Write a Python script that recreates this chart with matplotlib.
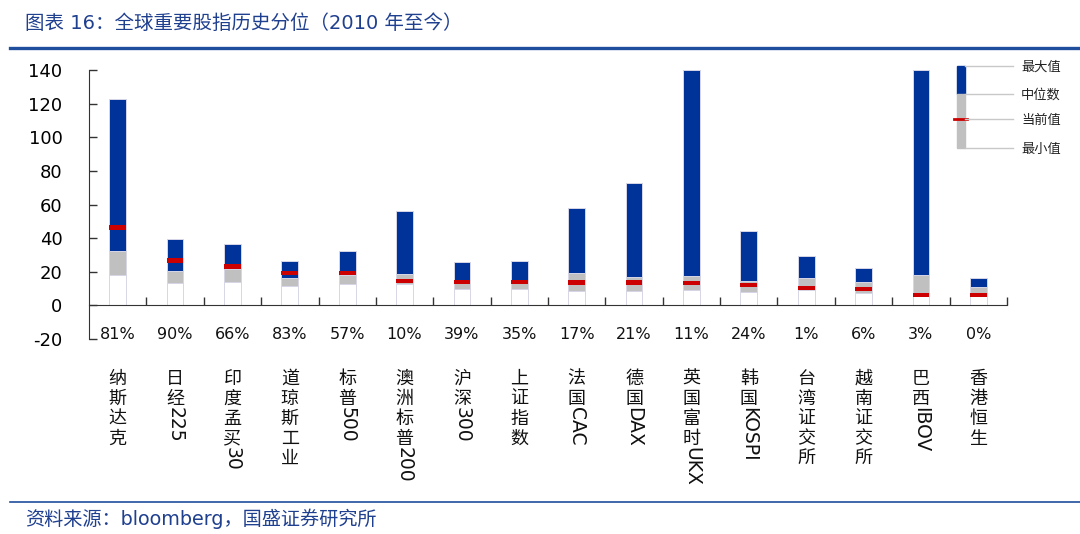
import matplotlib
matplotlib.use("Agg")
import matplotlib.pyplot as plt
from matplotlib.patches import Rectangle
from matplotlib.lines import Line2D

plt.rcParams['font.family'] = ['DejaVu Sans', 'Noto Sans CJK SC']

# 数据
indices = ["纳斯达克", "日经225", "印度孟买30", "道琼斯工业", "标普500", "澳洲标普200",
           "沪深300", "上证指数", "法国CAC", "德国DAX", "英国富时UKX", "韩国KOSPI",
           "台湾证交所", "越南证交所", "巴西IBOV", "香港恒生"]
max_vals = [122.8, 39.7, 36.5, 26.4, 32.3, 56.0, 25.8, 26.2, 57.7, 73.0, 140.0, 44.4, 29.6, 22.0, 140.0, 16.3]
median_vals = [32.1, 20.2, 21.4, 16.5, 17.9, 18.7, 15.1, 15.1, 19.0, 17.1, 17.7, 14.5, 16.3, 14.1, 17.9, 10.7]
min_vals = [18.1, 13.5, 14.1, 11.3, 12.9, 12.5, 9.7, 9.7, 8.5, 8.5, 9.3, 7.9, 9.3, 7.3, 5.5, 6.0]
current_vals = [46.4, 26.8, 23.2, 19.2, 19.4, 14.5, 13.9, 13.9, 13.5, 13.5, 13.3, 12.1, 10.3, 9.9, 6.2, 6.2]
percentiles = ["81%", "90%", "66%", "83%", "57%", "10%", "39%", "35%", "17%", "21%",
               "11%", "24%", "1%", "6%", "3%", "0%"]
y_ticks = [-20, 0, 20, 40, 60, 80, 100, 120, 140]

BLUE = '#003399'
GRAY = '#c0c0c0'
RED = '#cc0000'
EDGE = '#d6d6e6'
TITLE_BLUE = '#1f3f8f'

W, H = 1080, 534
fig = plt.figure(figsize=(W / 100, H / 100), dpi=100)
ax = fig.add_axes([89 / W, 1 - 339 / H, (1007 - 89) / W, (339 - 70) / H])

x = list(range(len(indices)))
bw = 0.29
mark_h = 2.6

ax.bar(x, min_vals, width=bw, color='white', edgecolor=EDGE, linewidth=0.7, zorder=2)
ax.bar(x, [m - n for m, n in zip(median_vals, min_vals)], bottom=min_vals, width=bw,
       color=GRAY, edgecolor=EDGE, linewidth=0.7, zorder=2)
ax.bar(x, [a - m for a, m in zip(max_vals, median_vals)], bottom=median_vals, width=bw,
       color=BLUE, edgecolor=EDGE, linewidth=0.7, zorder=2)
ax.bar(x, [mark_h] * len(x), bottom=[c - mark_h / 2 for c in current_vals], width=bw,
       color=RED, linewidth=0, zorder=3)

for i, p in enumerate(percentiles):
    ax.text(i, -17.5, p, ha='center', va='center', fontsize=11.5, color='#111111')

ax.set_xlim(-0.5, len(indices) - 0.5)
ax.set_ylim(-20, 140)
ax.set_yticks(y_ticks)
ax.set_yticklabels([str(v) for v in y_ticks], fontsize=13)
ax.set_xticks([i + 0.5 for i in range(len(indices))])
ax.set_xticklabels([])
ax.tick_params(axis='y', direction='in', length=6, width=1, color='#333333', pad=19)
ax.tick_params(axis='x', direction='in', length=6, width=1, color='#333333')
ax.spines['top'].set_visible(False)
ax.spines['right'].set_visible(False)
ax.spines['bottom'].set_position(('data', 0))
ax.spines['left'].set_color('#333333')
ax.spines['bottom'].set_color('#333333')

# 竖排类别标签
step = 14.4
for i, name in enumerate(indices):
    cjk = ""
    latin = ""
    for ch in name:
        if ord(ch) > 127 and latin == "":
            cjk += ch
        else:
            latin += ch
    for k, ch in enumerate(cjk):
        ax.annotate(ch, xy=(i, 0), xycoords=('data', 'axes fraction'),
                    xytext=(0, -22 - k * step), textcoords='offset points',
                    ha='center', va='top', fontsize=13, family='Noto Sans CJK SC',
                    color='#111111')
    if latin:
        ax.annotate(latin, xy=(i, 0), xycoords=('data', 'axes fraction'),
                    xytext=(0, -20 - len(cjk) * step), textcoords='offset points',
                    ha='center', va='top', rotation=-90, fontsize=13.5,
                    color='#111111')

# 图例
lax = fig.add_axes([940 / W, 1 - 160 / H, 135 / W, 105 / H])
lax.set_xlim(940, 1075)
lax.set_ylim(160, 55)
lax.axis('off')
lax.add_patch(Rectangle((957, 66), 8, 28, color=BLUE))
lax.add_patch(Rectangle((957, 94), 8, 54, color=GRAY))
lax.add_line(Line2D([954, 967], [119, 119], color=RED, linewidth=2))
legend_labels = ["最大值", "中位数", "当前值", "最小值"]
legend_y = [66, 94, 119, 148]
for lab, yy in zip(legend_labels, legend_y):
    lax.add_line(Line2D([965, 1013], [yy, yy], color='#c8c8c8', linewidth=1))
    lax.text(1021, yy + 1, lab, ha='left', va='center', fontsize=9.5,
             family='Noto Sans CJK SC', color='#222222')

# 标题与来源
fig.text(25 / W, 1 - 23 / H, "图表 16：全球重要股指历史分位（2010 年至今）",
         ha='left', va='center', fontsize=14, color=TITLE_BLUE)
fig.add_artist(Line2D([10 / W, 1.0], [1 - 48 / H, 1 - 48 / H], color='#1f4e9c', linewidth=2.4))
fig.add_artist(Line2D([10 / W, 1.0], [1 - 502 / H, 1 - 502 / H], color='#1f4e9c', linewidth=1.2))
fig.text(25 / W, 1 - 519 / H, "资料来源：bloomberg，国盛证券研究所",
         ha='left', va='center', fontsize=13.8, color=TITLE_BLUE)

fig.savefig("out.png", dpi=100)
